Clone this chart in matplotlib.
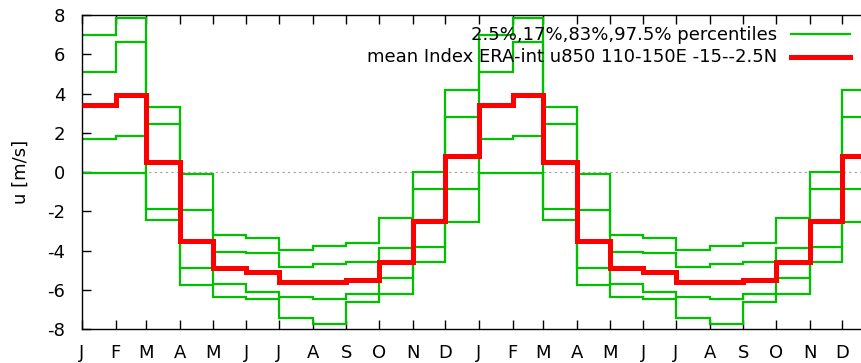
import numpy as np
import matplotlib
matplotlib.use("Agg")
import matplotlib.pyplot as plt
from matplotlib.lines import Line2D

plt.rcParams["axes.unicode_minus"] = False

# Monthly climatology of the index (Jan..Dec), shown for two consecutive years
month_labels = ["J", "F", "M", "A", "M", "J", "J", "A", "S", "O", "N", "D"]
month_days = [31, 28, 31, 30, 31, 30, 31, 31, 30, 31, 30, 31]

p025 = [-0.03, -0.07, -2.46, -5.78, -6.38, -6.49, -7.46, -7.73, -6.60, -6.22, -4.59, -2.56]
p17 = [1.70, 1.81, -1.87, -4.90, -5.73, -6.09, -6.38, -6.48, -6.22, -5.41, -3.83, -0.88]
p83 = [5.12, 6.63, 2.46, -1.92, -4.10, -4.15, -4.85, -4.71, -4.61, -3.88, -0.88, 2.78]
p975 = [7.00, 7.87, 3.32, -0.12, -3.19, -3.34, -3.98, -3.78, -3.63, -2.36, -0.02, 4.17]
mean_idx = [3.42, 3.90, 0.49, -3.54, -4.90, -5.10, -5.61, -5.61, -5.51, -4.59, -2.49, 0.81]

n_years = 2
edges = np.concatenate([[0], np.cumsum(month_days * n_years)])

fig = plt.figure(figsize=(8.62, 3.63), dpi=100)
W, H = 862, 363
left, right, top, bottom = 82, 876, 15, 329
ax = fig.add_axes([left / W, 1 - bottom / H, (right - left) / W, (bottom - top) / H])

green = "#00c000"
red = "#ff0000"
fs = 13

ax.axhline(0, color="#a0a0a0", lw=0.8, ls=(0, (2, 3)), zorder=1)

for series in (p025, p17, p83, p975):
    ax.stairs(series * n_years, edges, baseline=None, color=green, lw=1.6, zorder=2)
ax.stairs(mean_idx * n_years, edges, baseline=None, color=red, lw=3.6, zorder=3)

ax.set_xlim(edges[0], edges[-1])
ax.set_ylim(-8, 8)
ax.set_xticks(edges[:-1])
ax.set_xticklabels(month_labels * n_years)
ax.set_yticks(np.arange(-8, 9, 2))

ax.tick_params(axis="both", direction="in", length=6.5, width=1.0, labelsize=fs,
               top=True, right=False, colors="black")
ax.tick_params(axis="x", pad=11)
ax.tick_params(axis="y", pad=12)
for s in ax.spines.values():
    s.set_linewidth(1.0)

ax.set_ylabel("u [m/s]", fontsize=fs, labelpad=13)

# key in the upper right: right-aligned text followed by a line sample
def fx(px):
    return px / W

def fy(py):
    return 1 - py / H

fig.text(fx(777), fy(35), "2.5%,17%,83%,97.5% percentiles", ha="right", va="center", fontsize=fs)
fig.text(fx(777), fy(57), "mean Index ERA-int u850 110-150E -15--2.5N", ha="right", va="center", fontsize=fs)
fig.add_artist(Line2D([fx(791), fx(850)], [fy(34), fy(34)], color=green, lw=1.6))
fig.add_artist(Line2D([fx(791), fx(850)], [fy(57), fy(57)], color=red, lw=3.6))

fig.savefig("out.png", dpi=100)
